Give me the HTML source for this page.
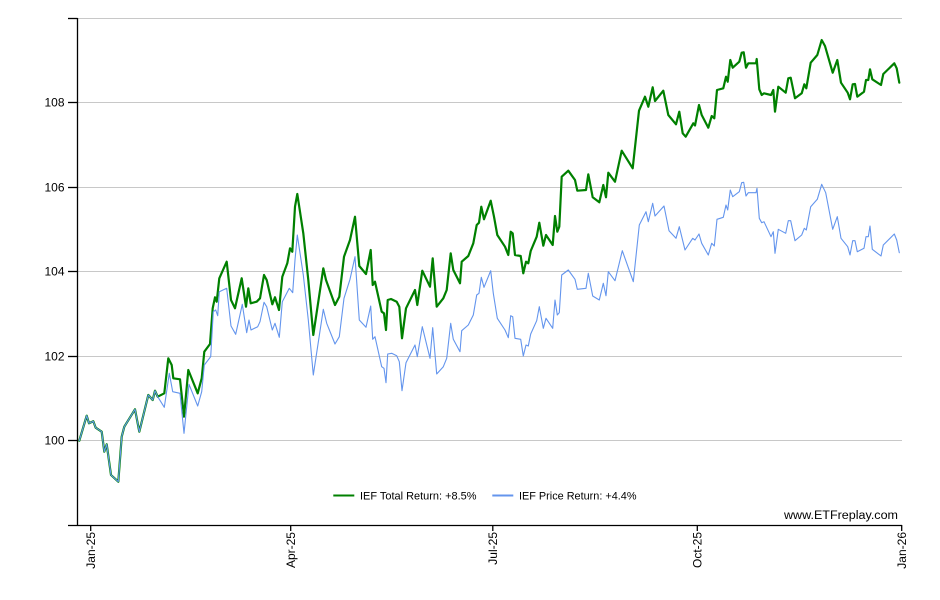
<!DOCTYPE html>
<html>
<head>
<meta charset="utf-8">
<style>
  html, body { margin:0; padding:0; background:#fff; }
  svg { display:block; }
  text { font-family: "Liberation Sans", Arial, sans-serif; }
</style>
</head>
<body>
<svg width="940" height="600" viewBox="0 0 940 600" xmlns="http://www.w3.org/2000/svg">
  <rect x="0" y="0" width="940" height="600" fill="#fff"/>
  <!-- gridlines -->
  <g stroke="#c8c8c8" stroke-width="1">
    <line x1="77" y1="18.5" x2="902" y2="18.5"/>
    <line x1="77" y1="102.5" x2="902" y2="102.5"/>
    <line x1="77" y1="187.5" x2="902" y2="187.5"/>
    <line x1="77" y1="271.5" x2="902" y2="271.5"/>
    <line x1="77" y1="356.5" x2="902" y2="356.5"/>
    <line x1="77" y1="440.5" x2="902" y2="440.5"/>
  </g>
  <!-- axes -->
  <g stroke="#000" stroke-width="1.3" fill="none">
    <line x1="77.5" y1="18" x2="77.5" y2="525.5"/>
    <line x1="68" y1="525.5" x2="902" y2="525.5"/>
    <line x1="68" y1="18.5" x2="77.5" y2="18.5"/>
    <line x1="68" y1="102.5" x2="77.5" y2="102.5"/>
    <line x1="68" y1="187.5" x2="77.5" y2="187.5"/>
    <line x1="68" y1="271.5" x2="77.5" y2="271.5"/>
    <line x1="68" y1="356.5" x2="77.5" y2="356.5"/>
    <line x1="68" y1="440.5" x2="77.5" y2="440.5"/>
    <line x1="90.7" y1="525" x2="90.7" y2="531"/>
    <line x1="290.7" y1="525" x2="290.7" y2="531"/>
    <line x1="492.8" y1="525" x2="492.8" y2="531"/>
    <line x1="697.3" y1="525" x2="697.3" y2="531"/>
    <line x1="901.7" y1="525" x2="901.7" y2="531"/>
  </g>
  <!-- y labels -->
  <g font-size="12" fill="#000" text-anchor="end">
    <text x="64.5" y="106.5">108</text>
    <text x="64.5" y="191.5">106</text>
    <text x="64.5" y="275.5">104</text>
    <text x="64.5" y="360.5">102</text>
    <text x="64.5" y="444.5">100</text>
  </g>
  <!-- x labels -->
  <g font-size="12" fill="#000" text-anchor="end">
    <text transform="translate(95,532) rotate(-90)">Jan-25</text>
    <text transform="translate(295,532) rotate(-90)">Apr-25</text>
    <text transform="translate(497,532) rotate(-90)">Jul-25</text>
    <text transform="translate(701.5,532) rotate(-90)">Oct-25</text>
    <text transform="translate(906,532) rotate(-90)">Jan-26</text>
  </g>
  <!-- green total return -->
  <polyline fill="none" stroke="#008000" stroke-width="2.2" stroke-linejoin="round" stroke-linecap="round" points="
79.3,440.7 86.7,415.7 89,423.3 93.3,421.3 95.7,427.7 101.7,431.7 104.3,451.7 106.7,444.3 111,475 118.3,481.7
121.7,436.7 124.3,426.7 135,409.3 139.3,431.7 148.3,395 152.7,400 155,390.7 157.7,396.7 164.3,393.3 168.3,358.3
171.7,365 173.3,378.3 180,379.3 184,416.7 188.3,370 197.7,393.3 201.7,378.3 204.3,351.7 210,344 212.7,308.3
215,297.3 216.7,301.7 219.3,278.3 226.7,261.7 231,300 235,308.3 241.7,278.3 246,306.7 248.3,288.3 250.7,303.3
256.7,301.7 260,298.3 264,275 266.7,280 272.3,304.3 275,297.3 279,310 282.3,276.7 287.3,263.3 290,248.3
292.3,251.7 295,206.7 297.3,194 303.3,233.3 308.3,280 313.3,335 323.3,268.3 326,280 335,305 339.3,296.7
344,256.7 350,240 355,216.7 359.3,266 366,274 370.7,250 372.7,285 375,281.7 381.7,311.7 384,313.3
386,330 387.7,300 391,299 396.7,301.7 399.3,306.7 402,338.3 406,308.3 415,290 417.3,305 422.3,270.7
430,286.7 432.7,258.3 436.7,306.7 443.3,298.3 446.7,290 450.7,253.3 453.3,270 460,283.3 461.7,261.7 468.3,256
473.3,243.3 476.7,225 479,222.7 481.3,206.7 484,219.3 490.7,200.7 494,216.7 497.3,235 505,246.7 508.3,255
510.7,231.7 512.7,233.3 515,255 520.7,256 523.3,273.3 526,261.7 528.3,263.3 530.7,251 536.7,236.7 539.3,222.7
543.3,245.7 546,235 552.7,245 555,216 557.3,231.7 559.3,226.7 561.7,176.7 568.3,170.7 575,180 577.3,190.7
586,190 588.3,174.3 592.7,197.3 599.3,202.3 603.3,185 606,197.3 608.3,172.7 615,181.7 621.7,150.7 632.7,168.3
639,110.7 645,96.7 648.3,106.7 652.7,87.3 655,101 663.3,90.7 668.3,115 676,124.3 679.3,111.7 682.7,133.3
685.7,136.7 693.3,123.3 695,125.5 699,105 701.7,115 708.3,127.7 711.7,116 714.3,118.3 717,90 723.3,88.3
726,76.7 727.7,81.7 730.3,60 732.7,67.7 739.3,61.7 741.7,52.7 743.7,52.3 746,67.7 748.3,63.3 756,63.3
756.7,59 759.3,89.3 761.7,95 764,93.3 771,95 773.3,90 775,111.7 778.3,86.7 785.7,92.7 788.3,78.3
790.7,77.7 795,98.3 801.7,93.3 804.3,84.3 806.3,88.3 810.7,62.7 817.3,55 821.7,40 825,46 832.7,72.7
837.3,60 841,82.7 847.7,92.7 850,99.3 852.7,84.3 855,84 857.3,96.7 864,91.7 866,80 868.3,80
870,69.3 872.3,79.3 881,85 883.3,74 894.3,63.3 896.7,68.3 899.3,82.7"/>
  <!-- blue price return -->
  <polyline fill="none" stroke="#6495ed" stroke-width="1.1" stroke-linejoin="round" stroke-linecap="round" points="
79.3,440.7 86.7,415.7 89,423.3 93.3,421.3 95.7,427.7 101.7,431.7 104.3,451.7 106.7,444.3 111,475 118.3,481.7
121.7,436.7 124.3,426.7 135,409.3 139.3,431.7 148.3,395 152.7,400 155,390.7 157.7,396.7 164.3,407.3 169.3,373.3
172.7,391.7 180,393.3 184,433.3 189,384.3 197.7,406 201.7,391.7 204.3,365 210.7,356.7 213.3,311.7 215.7,310
217.7,315.7 219.3,291.7 226.7,288.3 231,326 235.7,334.3 242.3,304.3 246.7,332.7 249,320 251,330 257.7,326.7
260,321.7 264,302.3 266.7,306.7 272.3,330 275,323.3 279.3,337.3 282.3,301.7 289.3,288.3 292.7,292.7 295,260
297.3,235 303.3,275 308.3,320 313.3,375 323.3,309.3 326.7,323.3 335,344 339.3,336.7 344,298.3 350,279.3
355,256.7 359.3,320 366,327.3 370.7,306 372.7,339.3 375,336.7 381.7,366.7 384,368.3 386,382.7 387.7,354
391.7,353.3 396.7,355.7 399.3,361.7 402,390.7 406,362.7 415,345 417.3,356.7 422.3,326.7 430,358.3 432.7,327.7
436.7,374 443.3,366.7 446.7,358.3 450.7,323.3 453.3,339.3 460,351.7 461.7,330.7 468.3,325 473.3,315 476.7,295
479,293.3 481.3,277.3 484,287.3 490.7,270.7 493.3,293.3 497.3,318.3 505,330 508.3,337.7 510.7,315.7 512.7,316.7
515,338.3 520.7,339.3 523.3,356 526,345 528.3,346 530.7,334 536.7,320.7 539.3,306.7 543.3,328.3 546,318.3
552.7,328.3 555,300 557.3,315 559.3,312.7 561.7,275 568.3,270 575,279.3 577.3,289.3 586,288.3 588.3,273.3
592.7,296 599.3,300 603.3,283.3 606,295.7 608.3,271.7 615,280.7 622.3,250.7 633.3,281.7 639.3,225 646,211.7
648.3,221.7 652.7,203.3 655,216 664,206 669,230.7 676,238.3 679.3,226.7 685,250 692.7,238.3 695,240
699,234 701.7,243.3 708.3,255 711.7,243.3 714.3,246 717,219.3 723.3,217.3 726,205 727.7,210 730.3,190
732.7,196.7 739.3,191.7 741.7,182.7 743.7,182.3 746,196 748.3,192.7 756,192.7 757,188.3 759.3,218.3 761.7,222.7
764,221.7 771,236.7 773.3,231.7 775,253.3 778.3,229.3 785.7,233.3 788.3,220.7 790.7,220.7 795,240.7 801.7,235
804.3,228.3 806.3,230 810.7,206.7 817.3,199.3 821.7,184.3 825.7,192.7 832.7,229.3 837.3,216.7 841,238.3 847.7,246.7
850,255 852.7,240.7 855,240.7 857.3,251.7 864,248.3 866,236.7 868.3,236.7 870,226 872.3,249.3 881,256
883.3,245 894.3,234 896.7,240 899.3,252.7"/>
  <!-- legend -->
  <line x1="333.3" y1="495.5" x2="354.3" y2="495.5" stroke="#008000" stroke-width="2"/>
  <text x="360" y="499.5" font-size="11" fill="#000" textLength="116.5" lengthAdjust="spacingAndGlyphs">IEF Total Return: +8.5%</text>
  <line x1="492.3" y1="495.5" x2="513.3" y2="495.5" stroke="#6495ed" stroke-width="2"/>
  <text x="519" y="499.5" font-size="11" fill="#000" textLength="117.5" lengthAdjust="spacingAndGlyphs">IEF Price Return: +4.4%</text>
  <!-- watermark -->
  <text x="784" y="519" font-size="11.5" fill="#000" font-family="'DejaVu Sans', Verdana, sans-serif" textLength="114" lengthAdjust="spacingAndGlyphs">www.ETFreplay.com</text>
</svg>
</body>
</html>
